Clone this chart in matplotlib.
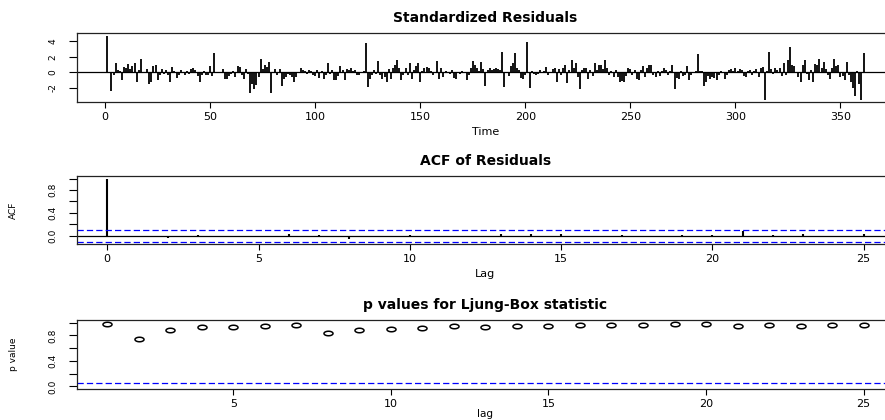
import numpy as np
import matplotlib
matplotlib.use("Agg")
import matplotlib.pyplot as plt
from matplotlib.path import Path

plt.rcParams["font.family"] = ["DejaVu Sans"]
plt.rcParams["axes.unicode_minus"] = False

# standardized residuals (t = 1..361)
resid = [
    4.7, 0.1, -2.4, -0.4, 1.2, 0.3, 0.2, -1.0, 0.7, 0.5,
    1.1, 0.4, 0.85, 1.15, -1.2, 0.3, 1.65, 0.1, 0.0, 0.4,
    -1.5, -1.3, 0.85, 0.95, -1.0, -0.3, 0.45, -0.2, 0.3, -0.3,
    -1.3, 0.65, 0.2, -0.7, -0.3, 0.3, -0.1, -0.3, 0.2, -0.2,
    0.45, 0.6, 0.3, -0.5, -1.2, -0.4, 0.2, -0.4, -0.3, 0.85,
    -0.5, 2.45, 0.1, 0.1, -0.1, 0.45, -0.9, -0.8, -0.5, -0.2,
    0.2, -0.6, 0.85, 0.65, -0.4, -0.9, 0.45, -0.2, -2.6, -1.5,
    -2.1, -1.6, -0.6, 1.65, 0.4, 1.0, 0.7, 1.3, -2.7, 0.1,
    0.4, -0.4, 0.4, -1.7, -0.8, -0.6, -0.2, -0.3, -0.6, -1.2,
    -0.6, -0.1, 0.55, 0.3, 0.2, -0.2, 0.3, 0.2, -0.3, -0.5,
    0.3, -0.7, 0.2, -0.8, -0.4, 1.25, -0.2, 0.3, -1.0, -1.0,
    -0.5, 0.8, 0.3, -1.0, 0.4, 0.3, 0.5, 0.2, 0.3, -0.3,
    -0.4, 0.1, 0.2, 3.75, -1.9, -0.8, -0.3, 0.3, -0.2, 1.4,
    -0.4, -0.9, -0.6, -1.2, 0.4, -0.8, 0.6, 1.0, 1.6, 0.5,
    -1.0, -0.3, 0.6, -0.4, 1.15, -0.9, 0.3, 0.85, 1.2, -1.2,
    0.2, 0.5, 0.7, 0.5, 0.2, -0.4, 0.1, 1.4, -0.8, 0.5,
    -0.6, 0.2, 0.1, -0.2, 0.3, -0.7, -0.9, 0.1, -0.2, 0.2,
    -0.1, -1.0, -0.4, 0.5, 1.4, 0.9, 0.6, 0.2, 1.3, 0.4,
    -1.7, 0.3, 0.5, 0.3, 0.4, 0.6, 0.4, 0.3, 2.6, -1.85,
    0.1, -0.5, 0.8, 1.2, 2.5, 0.5, 0.3, -0.7, -0.8, -0.3,
    3.95, -2.05, 0.2, -0.2, -0.4, -0.2, 0.3, 0.1, 0.2, 0.7,
    -0.3, -0.1, 0.4, 0.5, -1.2, 0.4, -0.3, 0.5, 0.9, -1.4,
    0.3, 1.6, 0.5, 1.2, -0.6, -2.2, 0.3, 0.6, 0.5, -0.8,
    0.3, -0.5, 1.2, 0.3, 0.9, 1.0, 0.4, 1.6, 0.5, -0.4,
    0.2, -0.6, 0.3, -0.6, -1.3, -1.1, -1.3, -0.5, 0.6, 0.4,
    -0.3, 0.3, -0.9, -1.0, 0.3, 0.8, -0.6, 0.6, 0.9, 1.0,
    -0.3, -0.6, 0.2, -0.5, 0.2, 0.5, 0.3, -0.4, 0.2, 0.9,
    -2.1, -0.7, -0.9, 0.2, -0.5, -0.4, 0.8, -1.0, -0.3, 0.1,
    0.2, 2.3, 0.2, 0.2, -1.8, -1.2, -0.5, -0.9, -0.6, -0.7,
    -1.0, -0.4, 0.2, 0.1, -0.8, -0.3, 0.3, 0.4, 0.2, 0.5,
    0.2, 0.4, 0.3, -0.5, -0.6, 0.2, 0.3, -0.3, 0.2, 0.4,
    -0.6, 0.6, 0.7, -3.5, 0.2, 2.55, 0.4, -0.2, 0.5, 0.3,
    0.6, -0.5, 1.2, -0.4, 1.6, 3.25, 1.0, 0.8, 0.1, -0.6,
    -1.2, 0.9, 1.6, -0.2, -1.0, 0.3, -1.2, 1.1, 0.9, 1.7,
    0.6, 1.3, 0.4, -0.3, -0.9, 0.5, 1.7, 0.8, 1.0, -0.6,
    -0.5, -1.0, 1.3, -0.3, -1.2, -2.0, -3.1, 0.2, -1.5, -3.5,
    2.5,
]
time = np.arange(1, len(resid) + 1)

# ACF of residuals, lags 0..25
acf_lags = np.arange(0, 26)
acf_vals = [1.0, -0.005, -0.035, 0.005, -0.02, -0.025, 0.02, 0.015, -0.06, -0.01,
            0.012, -0.012, 0.0, 0.02, 0.02, 0.025, -0.015, 0.012, -0.015, 0.005,
            0.008, 0.085, 0.002, 0.03, -0.01, 0.02]

# Ljung-Box p values, lags 1..25
lb_lags = np.arange(1, 26)
lb_pvals = [0.985, 0.74, 0.88, 0.925, 0.925, 0.94, 0.955, 0.84, 0.877, 0.893,
            0.92, 0.95, 0.93, 0.945, 0.945, 0.96, 0.955, 0.955, 0.975, 0.975,
            0.95, 0.96, 0.95, 0.96, 0.96]

clim = 1.96 / np.sqrt(len(resid))


def r_pad(lo, hi):
    d = (hi - lo) * 0.04
    return lo - d, hi + d


def style(ax, title, xlabel, ylabel=None, xpad=4):
    ax.set_title(title, fontsize=10, fontweight="bold", pad=8)
    ax.set_xlabel(xlabel, fontsize=8, labelpad=xpad)
    if ylabel:
        ax.set_ylabel(ylabel, fontsize=6.5)
        ax.yaxis.set_label_coords(-0.072, 0.5)
    ax.tick_params(axis="x", length=4, width=0.8, pad=3, labelsize=8)
    ax.tick_params(axis="y", length=6, width=0.8, pad=8, labelsize=6.5)
    for lab in ax.get_yticklabels():
        lab.set_rotation(90)
        lab.set_va("center")
    for sp in ax.spines.values():
        sp.set_linewidth(0.9)
        sp.set_color("#222222")


fig = plt.figure(figsize=(8.85, 4.2), dpi=100)

# Standardized residuals
ax1 = fig.add_axes([0.087, 0.757, 0.923, 0.164])
ax1.vlines(time, 0, resid, color="black", linewidth=1.3)
ax1.axhline(0, color="black", linewidth=0.9)
ax1.set_xlim(r_pad(time.min(), time.max()))
ax1.set_ylim(r_pad(min(resid), max(resid)))
ax1.set_xticks(np.arange(0, 351, 50))
ax1.set_yticks([-2, 0, 2, 4])
style(ax1, "Standardized Residuals", "Time")

# ACF of residuals
ax2 = fig.add_axes([0.087, 0.419, 0.923, 0.162])
ax2.vlines(acf_lags, 0, acf_vals, color="black", linewidth=1.5)
ax2.axhline(0, color="black", linewidth=0.9)
ax2.axhline(clim, color="blue", linewidth=0.9, dashes=(5, 2.5))
ax2.axhline(-clim, color="blue", linewidth=0.9, dashes=(5, 2.5))
ax2.set_xlim(r_pad(acf_lags.min(), acf_lags.max()))
ax2.set_ylim(r_pad(min(min(acf_vals), -clim), max(max(acf_vals), clim)))
ax2.set_xticks(np.arange(0, 26, 5))
ax2.set_yticks(np.arange(0, 1.01, 0.2))
ax2.set_yticklabels(["0.0", "", "0.4", "", "0.8", ""])
style(ax2, "ACF of Residuals", "Lag", "ACF")

# p values for Ljung-Box statistic
theta = np.linspace(0, 2 * np.pi, 60)
ellipse = Path(np.column_stack([np.cos(theta), 0.5 * np.sin(theta)]), closed=True)
ax3 = fig.add_axes([0.087, 0.074, 0.923, 0.164])
ax3.plot(lb_lags, lb_pvals, linestyle="none", marker=ellipse, markersize=6.5,
         markerfacecolor="none", markeredgecolor="black", markeredgewidth=1.1)
ax3.axhline(0.05, color="blue", linewidth=0.9, dashes=(5, 2.5))
ax3.set_xlim(r_pad(lb_lags.min(), lb_lags.max()))
ax3.set_ylim(r_pad(0, 1))
ax3.set_xticks(np.arange(5, 26, 5))
ax3.set_yticks(np.arange(0, 1.01, 0.2))
ax3.set_yticklabels(["0.0", "", "0.4", "", "0.8", ""])
style(ax3, "p values for Ljung-Box statistic", "lag", "p value", xpad=0.5)
ax3.xaxis.label.set_fontsize(7.5)

fig.savefig("out.png", dpi=100)
